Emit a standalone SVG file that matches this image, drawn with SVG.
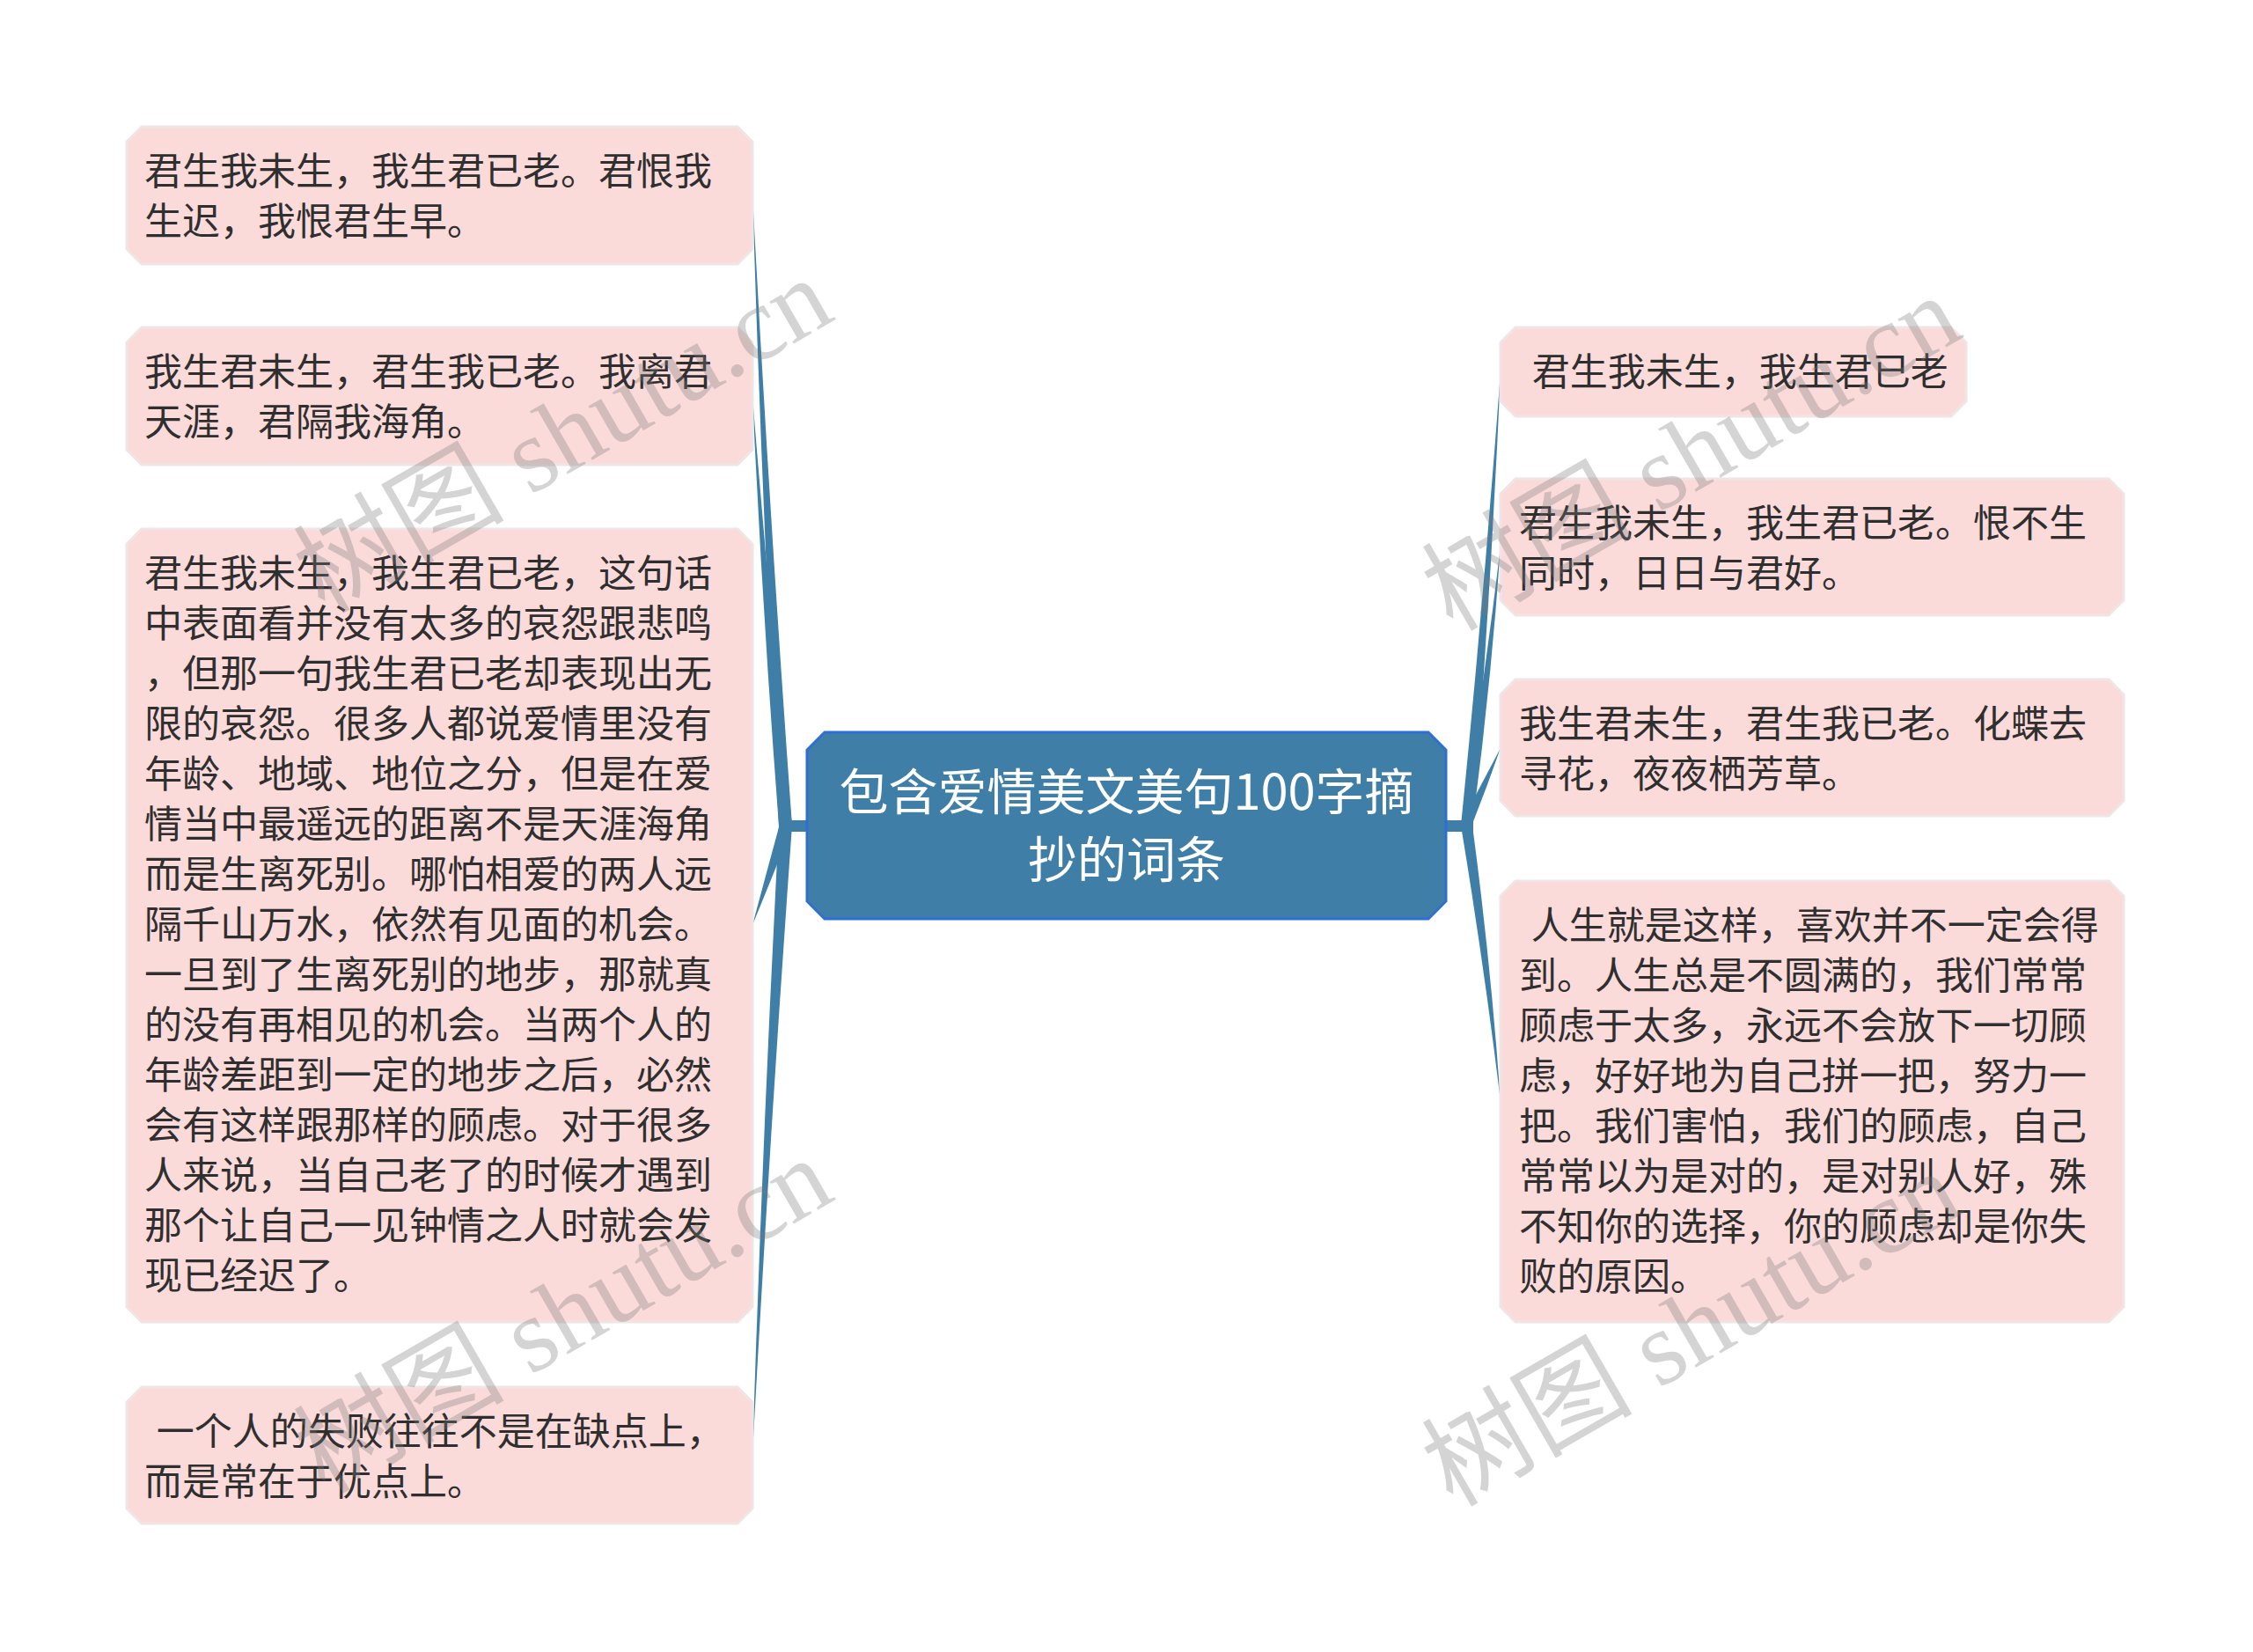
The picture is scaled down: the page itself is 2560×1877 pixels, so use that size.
<svg xmlns="http://www.w3.org/2000/svg" width="2560" height="1877" viewBox="0 0 2560 1877">
<defs>
<style>
.node path{fill:#fbdada;stroke:#f1e4e4;stroke-width:3}
.node text{font-family:"Noto Sans CJK SC","Noto Sans",sans-serif;font-size:43px;fill:#2f2f2f}
.root path{fill:#3f7fa7;stroke:#2f6fd4;stroke-width:3}
.root text{font-family:"Noto Sans CJK SC","Noto Sans",sans-serif;font-size:56px;fill:#ffffff;text-anchor:middle}
.conn path,.conn rect{fill:#3f7fa7;stroke:none}
.wm text{font-family:"Liberation Serif","Noto Sans CJK SC",serif;font-size:120px;fill:#7a7a7a;fill-opacity:0.32;text-anchor:middle}
</style>
</defs>
<rect width="2560" height="1877" fill="#ffffff"/>

<g id="connectors" class="conn">
  <rect x="885" y="932" width="34" height="13"/>
  <rect x="1641" y="932" width="33" height="13"/>
  <path d="M900,938 Q874,580 855,221 Q866,580 885,938 Z"/>
  <path d="M900,938 Q874,690 855,450 Q866,690 885,938 Z"/>
  <path d="M900,940 Q878,995 855,1051 Q870,995 885,940 Z"/>
  <path d="M900,938 Q874,1300 855,1653 Q866,1300 885,938 Z"/>
  <path d="M1660,938 Q1686,680 1705,422 Q1694,680 1673,938 Z"/>
  <path d="M1660,938 Q1686,780 1705,621 Q1694,780 1673,938 Z"/>
  <path d="M1660,936 Q1682,893 1705,850 Q1690,893 1673,936 Z"/>
  <path d="M1660,938 Q1686,1095 1705,1251 Q1694,1095 1673,938 Z"/>
</g>

<g id="root" class="root">
  <path d="M937,832 H1623 L1643,852 V1024 L1623,1044 H937 L917,1024 V852 Z"/>
  <text x="1280" y="920">包含爱情美文美句100字摘</text>
  <text x="1280" y="997">抄的词条</text>
</g>

<g id="node-l1" class="node">
  <path d="M161,144 H838 L855,161 V283 L838,300 H161 L144,283 V161 Z"/>
  <text x="164" y="210">君生我未生，我生君已老。君恨我</text>
  <text x="164" y="267">生迟，我恨君生早。</text>
</g>

<g id="node-l2" class="node">
  <path d="M161,372 H838 L855,389 V511 L838,528 H161 L144,511 V389 Z"/>
  <text x="164" y="438">我生君未生，君生我已老。我离君</text>
  <text x="164" y="495">天涯，君隔我海角。</text>
</g>

<g id="node-l3" class="node">
  <path d="M161,601 H838 L855,618 V1485 L838,1502 H161 L144,1485 V618 Z"/>
  <text x="164" y="667">君生我未生，我生君已老，这句话</text>
  <text x="164" y="724">中表面看并没有太多的哀怨跟悲鸣</text>
  <text x="164" y="781">，但那一句我生君已老却表现出无</text>
  <text x="164" y="838">限的哀怨。很多人都说爱情里没有</text>
  <text x="164" y="895">年龄、地域、地位之分，但是在爱</text>
  <text x="164" y="952">情当中最遥远的距离不是天涯海角</text>
  <text x="164" y="1009">而是生离死别。哪怕相爱的两人远</text>
  <text x="164" y="1066">隔千山万水，依然有见面的机会。</text>
  <text x="164" y="1123">一旦到了生离死别的地步，那就真</text>
  <text x="164" y="1180">的没有再相见的机会。当两个人的</text>
  <text x="164" y="1237">年龄差距到一定的地步之后，必然</text>
  <text x="164" y="1294">会有这样跟那样的顾虑。对于很多</text>
  <text x="164" y="1351">人来说，当自己老了的时候才遇到</text>
  <text x="164" y="1408">那个让自己一见钟情之人时就会发</text>
  <text x="164" y="1465">现已经迟了。</text>
</g>

<g id="node-l4" class="node">
  <path d="M161,1576 H838 L855,1593 V1714 L838,1731 H161 L144,1714 V1593 Z"/>
  <text x="168" y="1642" xml:space="preserve" style="white-space:pre"> 一个人的失败往往不是在缺点上，</text>
  <text x="164" y="1699">而是常在于优点上。</text>
</g>

<g id="node-r1" class="node">
  <path d="M1722,372 H2217 L2234,389 V456 L2217,473 H1722 L1705,456 V389 Z"/>
  <text x="1731" y="438" xml:space="preserve" style="white-space:pre"> 君生我未生，我生君已老</text>
</g>

<g id="node-r2" class="node">
  <path d="M1722,544 H2396 L2413,561 V682 L2396,699 H1722 L1705,682 V561 Z"/>
  <text x="1726" y="610">君生我未生，我生君已老。恨不生</text>
  <text x="1726" y="667">同时，日日与君好。</text>
</g>

<g id="node-r3" class="node">
  <path d="M1722,772 H2396 L2413,789 V910 L2396,927 H1722 L1705,910 V789 Z"/>
  <text x="1726" y="838">我生君未生，君生我已老。化蝶去</text>
  <text x="1726" y="895">寻花，夜夜栖芳草。</text>
</g>

<g id="node-r4" class="node">
  <path d="M1722,1001 H2396 L2413,1018 V1485 L2396,1502 H1722 L1705,1485 V1018 Z"/>
  <text x="1730" y="1067" xml:space="preserve" style="white-space:pre"> 人生就是这样，喜欢并不一定会得</text>
  <text x="1726" y="1124">到。人生总是不圆满的，我们常常</text>
  <text x="1726" y="1181">顾虑于太多，永远不会放下一切顾</text>
  <text x="1726" y="1238">虑，好好地为自己拼一把，努力一</text>
  <text x="1726" y="1295">把。我们害怕，我们的顾虑，自己</text>
  <text x="1726" y="1352">常常以为是对的，是对别人好，殊</text>
  <text x="1726" y="1409">不知你的选择，你的顾虑却是你失</text>
  <text x="1726" y="1466">败的原因。</text>
</g>

<g id="watermark" class="wm">
  <text transform="translate(660,530) rotate(-30)">树图 shutu.cn</text>
  <text transform="translate(660,1530) rotate(-30)">树图 shutu.cn</text>
  <text transform="translate(1942,550) rotate(-30)">树图 shutu.cn</text>
  <text transform="translate(1942,1545) rotate(-30)">树图 shutu.cn</text>
</g>
</svg>
